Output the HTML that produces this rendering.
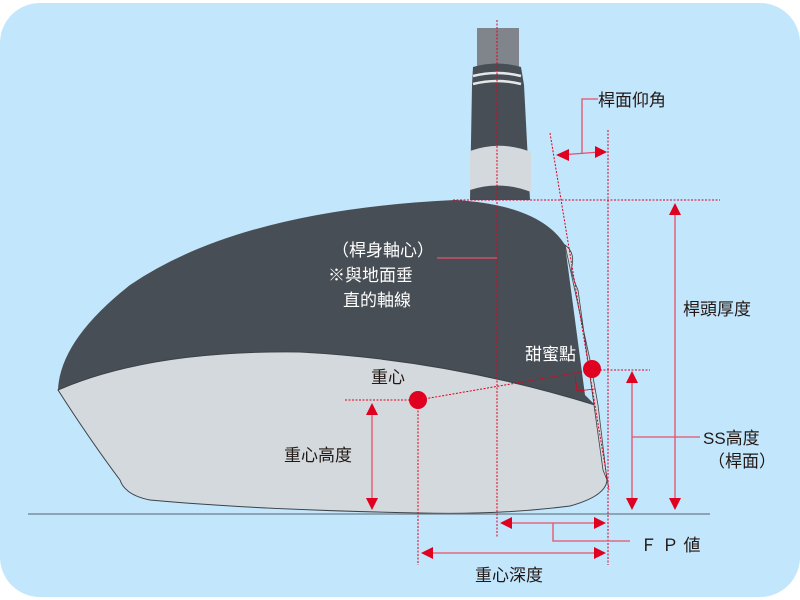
<!DOCTYPE html>
<html><head><meta charset="utf-8"><style>
html,body{margin:0;padding:0;background:#fff;}
svg{display:block}
text{font-family:"Liberation Sans","Noto Sans CJK TC",sans-serif;font-size:17px;}
</style></head><body>
<svg width="800" height="600" viewBox="0 0 800 600" xmlns="http://www.w3.org/2000/svg">
<rect x="0" y="3" width="800" height="594" rx="40" fill="#c2e6fb"/>
<!-- shaft -->
<rect x="477" y="28" width="42" height="40" fill="#7f858a"/>
<path d="M473,67 Q497,60 521,67 L524,85 L530,200 L470,200 L472,85 Z" fill="#484e55"/>
<path d="M473,76 Q497,70 521,76" stroke="#e5e8ea" stroke-width="2.5" fill="none"/>
<path d="M473,84 Q497,78 521,84" stroke="#e5e8ea" stroke-width="2.5" fill="none"/>
<path d="M470,151 Q500,140 531,152 L531,192 Q500,180 470,190 Z" fill="#d3d9dc"/>
<!-- crown -->
<path d="M58,390 Q60,340 130,285 Q240,210 455,200 Q540,205 565,245 L585,395 L595,405 Q450,360 300,352 Q150,350 58,390 Z" fill="#484e55"/>
<!-- face/sole -->
<path d="M58,390 Q150,350 300,352 Q450,360 595,405 L607,480 Q606,496 570,506 Q500,515 420,513 Q260,510 150,500 Q125,495 120,480 Q90,440 58,390 Z" fill="#d3d9dc" stroke="#3b4248" stroke-width="1"/>
<!-- face strip -->
<path d="M565,245 Q575,252 572,266 Q570,272 578,290 L603,470 L607,480 L598,405 L590,360 Z" fill="#d3d9dc" stroke="#3b4248" stroke-width="0.8"/>
<!-- ground -->
<line x1="28" y1="514" x2="710" y2="514" stroke="#6b7c88" stroke-width="1.2"/>
<!-- dotted red -->
<g stroke="#e00020" stroke-width="1" stroke-dasharray="2,1.5" fill="none">
<line x1="497" y1="20" x2="497" y2="538"/>
<line x1="453" y1="200" x2="720" y2="200"/>
<line x1="608" y1="130" x2="608" y2="565"/>
<line x1="550" y1="133" x2="609" y2="490"/>
<line x1="600" y1="370" x2="650" y2="370"/>
<line x1="345" y1="400" x2="418" y2="400"/>
<line x1="418" y1="400" x2="418" y2="565"/>
<line x1="418" y1="400" x2="592" y2="370"/>
</g>
<path d="M575,375 L577,391 L595,389" stroke="#e00020" stroke-width="0.8" fill="none"/>
<!-- solid red leaders/arrows -->
<g stroke="#e8506a" stroke-width="1.3" fill="none">
<polyline points="582,153 582,99 598,99"/>
<line x1="560" y1="155" x2="600" y2="152"/>
<line x1="675" y1="212" x2="675" y2="500"/>
<line x1="632" y1="380" x2="632" y2="500"/>
<line x1="632" y1="437" x2="700" y2="437"/>
<line x1="510" y1="523" x2="598" y2="523"/>
<polyline points="553,523 553,541 630,541"/>
<line x1="428" y1="553" x2="598" y2="553"/>
<line x1="372" y1="410" x2="372" y2="503"/>
<line x1="437" y1="258" x2="497" y2="258"/>
</g>
<g fill="#e00020">
<polygon points="556,155 569,149 569,161"/>
<polygon points="607,152 595,146 595,158"/>
<polygon points="675,203 669,215 681,215"/>
<polygon points="675,510 669,498 681,498"/>
<polygon points="632,371 626,383 638,383"/>
<polygon points="632,510 626,498 638,498"/>
<polygon points="500,523 512,517 512,529"/>
<polygon points="606,523 594,517 594,529"/>
<polygon points="421,553 433,547 433,559"/>
<polygon points="606,553 594,547 594,559"/>
<polygon points="372,403 366,415 378,415"/>
<polygon points="372,510 366,498 378,498"/>
<circle cx="592" cy="369" r="9"/>
<circle cx="418" cy="400" r="9"/>
</g>
<!-- text -->
<g fill="#231815">
<text x="598" y="106">桿面仰角</text>
<text x="683" y="315">桿頭厚度</text>
<text x="703" y="444">SS高度</text>
<text x="708" y="467">（桿面）</text>
<text x="640" y="551">Ｆ Ｐ 値</text>
<text x="475" y="581">重心深度</text>
<text x="284" y="461">重心高度</text>
<text x="371" y="383">重心</text>
</g>
<g fill="#ffffff">
<text x="332" y="256">（桿身軸心）</text>
<text x="328" y="281">※與地面垂</text>
<text x="343" y="306">直的軸線</text>
<text x="525" y="360">甜蜜點</text>
</g>
</svg>
</body></html>
